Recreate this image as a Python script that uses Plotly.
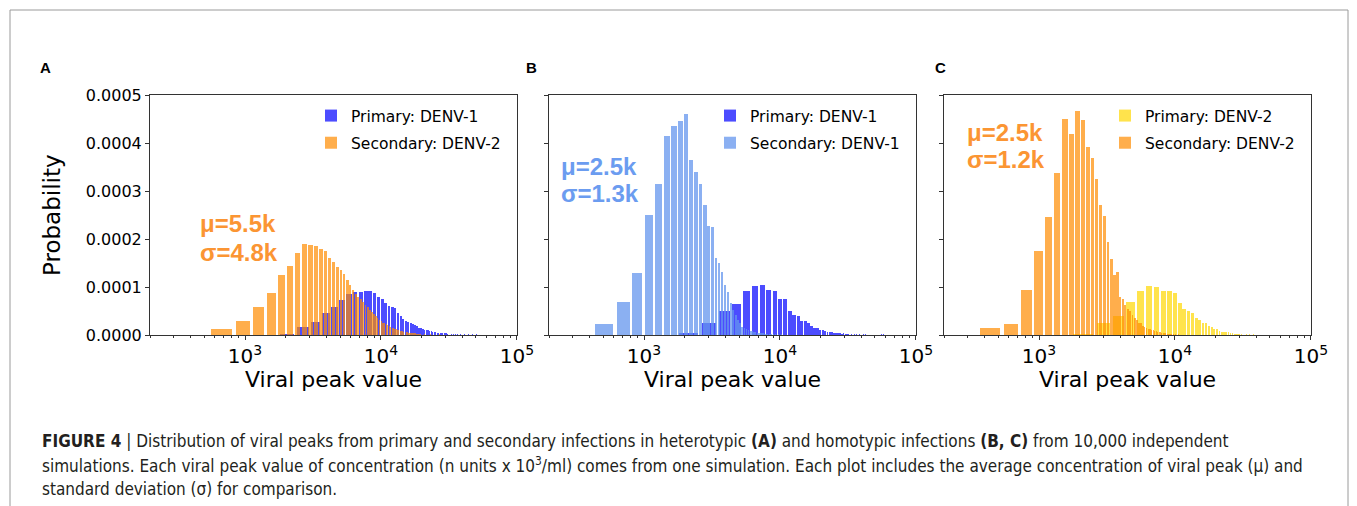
import math
import plotly.graph_objects as go

W, H = 1357, 506

# ---------------- data ----------------
# Panel A: heterotypic, primary DENV-1 / secondary DENV-2
a_pri_x = [1420, 2050, 2680, 3310, 3940, 4570, 5200, 5830, 6460, 7090, 7720, 8350, 8980, 9610,
           10240, 10870, 11500, 12130, 12760, 13390, 14020, 14650, 15280, 15910, 16540, 17170,
           17800, 18430, 19060, 19690, 20320, 20950, 21580, 22210, 22840, 23470, 24100, 24730,
           25360, 25990, 26620, 27250, 27880, 28510, 29140, 29770, 30400, 31030, 31660, 32920,
           34180, 35440, 36700, 38590, 41110, 44260, 47410, 50560, 54340, 58750, 65050, 87100]
a_pri_p = [1e-6, 2e-6, 1.6e-5, 2.8e-5, 4.6e-5, 5.8e-5, 7.2e-5, 8.5e-5, 9.0e-5, 9.0e-5, 9.1e-5,
           9.1e-5, 8.7e-5, 8.0e-5, 7.5e-5, 6.7e-5, 6.0e-5, 5.8e-5, 5.7e-5, 4.6e-5, 4.0e-5, 3.3e-5,
           3.0e-5, 2.8e-5, 2.6e-5, 2.3e-5, 2.0e-5, 1.8e-5, 1.5e-5, 1.5e-5, 1.2e-5, 1.1e-5, 1.0e-5,
           1.0e-5, 9e-6, 8e-6, 7e-6, 7e-6, 6e-6, 5e-6, 5e-6, 5e-6, 4e-6, 4e-6, 3.5e-6, 3.5e-6,
           3.5e-6, 3e-6, 3e-6, 2.5e-6, 2e-6, 2e-6, 2e-6, 2e-6, 1.5e-6, 1.5e-6, 1.5e-6, 1.5e-6,
           1.5e-6, 1e-6, 1e-6, 1e-6]
a_sec_x = [680, 973, 1266, 1559, 1852, 2145, 2438, 2731, 3024, 3317, 3610, 3903, 4196, 4489,
           4782, 5075, 5368, 5661, 5954, 6247, 6540, 6833, 7126, 7419, 7712, 8005, 8298, 8591,
           8884, 9177, 9470, 9763, 10056, 10349, 10642, 10935, 11228, 11521, 11814, 12107, 12400,
           12693, 12986, 13279, 13572, 13865, 14158, 14451, 14744, 15037, 15330, 15623, 15916,
           16209, 16502, 16795, 17088, 17381, 17674, 17967, 18260, 18553, 18846, 19139, 19432,
           20018, 20897, 21776, 23241, 24999, 27050, 29980, 33790, 38186]
a_sec_p = [1.2e-5, 3.0e-5, 5.8e-5, 8.7e-5, 1.24e-4, 1.44e-4, 1.70e-4, 1.90e-4, 1.88e-4, 1.86e-4,
           1.79e-4, 1.75e-4, 1.60e-4, 1.53e-4, 1.42e-4, 1.35e-4, 1.27e-4, 1.15e-4, 1.04e-4, 9.4e-5,
           8.6e-5, 8.0e-5, 7.4e-5, 6.8e-5, 6.3e-5, 5.8e-5, 5.3e-5, 4.8e-5, 4.4e-5, 4.0e-5, 3.6e-5,
           3.2e-5, 2.9e-5, 2.6e-5, 2.4e-5, 2.2e-5, 2.0e-5, 1.8e-5, 1.7e-5, 1.5e-5, 1.4e-5, 1.3e-5,
           1.2e-5, 1.1e-5, 1.0e-5, 9e-6, 8e-6, 8e-6, 7e-6, 7e-6, 6e-6, 6e-6, 5e-6, 5e-6, 5e-6,
           4e-6, 4e-6, 4e-6, 3.5e-6, 3.5e-6, 3e-6, 3e-6, 3e-6, 2.5e-6, 2.5e-6, 2e-6, 2e-6, 2e-6,
           1.5e-6, 1.5e-6, 1.5e-6, 1e-6, 1e-6, 1e-6]

# Panel B: homotypic, primary DENV-1 / secondary DENV-1
b_pri_x = [2150, 3030, 3910, 4790, 5670, 6550, 7430, 8310, 9190, 10070, 10950, 11830, 12710,
           13590, 14470, 15350, 16230, 17110, 17990, 18870, 19750, 20630, 21510, 22390, 23270,
           24150, 25030, 25910, 26790, 27670, 28550, 29430, 30310, 31190, 32070, 33830, 35590,
           36470, 38230, 40870, 42630, 55830, 57590]
b_pri_p = [5e-6, 2.5e-5, 4.9e-5, 6.4e-5, 9.2e-5, 1.03e-4, 1.05e-4, 9.4e-5, 9.2e-5, 7.5e-5,
           7.4e-5, 4.9e-5, 4.1e-5, 3.9e-5, 3.0e-5, 2.9e-5, 2.4e-5, 1.9e-5, 1.4e-5, 1.4e-5, 1.0e-5,
           1.0e-5, 8e-6, 7e-6, 7e-6, 6e-6, 5e-6, 5e-6, 4e-6, 3.5e-6, 3e-6, 3.5e-6, 3e-6, 2e-6,
           2e-6, 2e-6, 1.5e-6, 2e-6, 1.5e-6, 1.5e-6, 1.5e-6, 1.5e-6, 1.5e-6]
b_sec_x = [515, 706, 897, 1088, 1279, 1470, 1661, 1852, 2043, 2234, 2425, 2616, 2807, 2998,
           3189, 3380, 3571, 3762, 3953, 4144, 4335, 4526, 4717, 4908, 5099, 5290, 5481, 5672,
           5863, 6054, 6245, 6436, 6627, 6818, 7009, 7200, 7391, 7582, 7773, 7964, 8155, 8346,
           8537, 8728, 8919, 9301, 9683, 10256, 11020, 12166, 13694]
b_sec_p = [2.2e-5, 6.8e-5, 1.29e-4, 2.50e-4, 3.14e-4, 4.15e-4, 4.35e-4, 4.46e-4, 4.60e-4, 3.65e-4,
           3.40e-4, 3.14e-4, 2.71e-4, 2.27e-4, 2.26e-4, 1.60e-4, 1.49e-4, 1.32e-4, 1.04e-4, 9.0e-5,
           6.6e-5, 5.2e-5, 4.2e-5, 3.1e-5, 2.4e-5, 1.7e-5, 1.5e-5, 1.2e-5, 1.0e-5, 9e-6, 8e-6,
           7e-6, 6e-6, 5e-6, 5e-6, 4e-6, 4e-6, 3.5e-6, 3e-6, 3e-6, 2.5e-6, 2.5e-6, 2e-6, 2e-6,
           2e-6, 1.5e-6, 1.5e-6, 1.5e-6, 1e-6, 1e-6, 1e-6]

# Panel C: homotypic, primary DENV-2 / secondary DENV-2
c_pri_x = [2130, 3000, 3870, 4740, 5610, 6480, 7350, 8220, 9090, 9960, 10830, 11700, 12570,
           13440, 14310, 15180, 16050, 16920, 17790, 18660, 19530, 20400, 21270, 22140, 23010,
           23880, 24750, 25620, 26490, 27360, 28230, 29100, 29970, 30840, 33450, 35190, 37800,
           42150, 47370, 56940, 66510, 86520]
c_pri_p = [2e-6, 2.4e-5, 4.0e-5, 6.8e-5, 9.2e-5, 1.03e-4, 9.9e-5, 9.2e-5, 9.2e-5, 8.8e-5, 6.6e-5,
           5.5e-5, 4.9e-5, 4.5e-5, 3.5e-5, 3.1e-5, 2.6e-5, 2.5e-5, 1.9e-5, 1.6e-5, 1.3e-5, 1.2e-5,
           9e-6, 7e-6, 7e-6, 6e-6, 6e-6, 4e-6, 3.5e-6, 3e-6, 2.5e-6, 2e-6, 2e-6, 1.5e-6, 1.5e-6,
           1.5e-6, 1.5e-6, 1e-6, 1e-6, 1e-6, 1e-6, 1e-6]
c_sec_x = [440, 625, 810, 995, 1180, 1365, 1550, 1735, 1920, 2105, 2290, 2475, 2660, 2845, 3030,
           3215, 3400, 3585, 3770, 3955, 4140, 4325, 4510, 4695, 4880, 5065, 5250, 5435, 5620,
           5805, 5990, 6175, 6360, 6545, 6730, 6915, 7100, 7285, 7470, 7655, 7840, 8025, 8210,
           8395, 8580, 8765, 8950, 9135, 9320, 9505, 9690, 10060, 10615, 11170, 12095, 13390]
c_sec_p = [1.4e-5, 2.2e-5, 9.4e-5, 1.76e-4, 2.46e-4, 3.38e-4, 4.49e-4, 4.19e-4, 4.67e-4, 4.48e-4,
           3.91e-4, 3.68e-4, 3.26e-4, 2.71e-4, 2.48e-4, 1.94e-4, 1.58e-4, 1.25e-4, 1.32e-4, 8.0e-5,
           7.6e-5, 6.2e-5, 5.5e-5, 4.9e-5, 4.2e-5, 3.5e-5, 3.1e-5, 2.6e-5, 2.4e-5, 1.8e-5, 1.7e-5,
           1.4e-5, 1.3e-5, 1.2e-5, 1.1e-5, 1.0e-5, 9e-6, 8e-6, 7e-6, 6e-6, 6e-6, 5e-6, 4e-6, 4e-6,
           3.5e-6, 3e-6, 3e-6, 2.5e-6, 2.5e-6, 2e-6, 2e-6, 1.5e-6, 1.5e-6, 1e-6, 1e-6, 1e-6]

legend_names = [["Primary: DENV-1", "Secondary: DENV-2"],
                ["Primary: DENV-1", "Secondary: DENV-1"],
                ["Primary: DENV-2", "Secondary: DENV-2"]]
stats_text = [["μ=5.5k", "σ=4.8k"], ["μ=2.5k", "σ=1.3k"], ["μ=2.5k", "σ=1.2k"]]
panel_letters = ["A", "B", "C"]
y_ticks = [0.0, 0.0001, 0.0002, 0.0003, 0.0004, 0.0005]

# ---------------- styles / layout ----------------
bin_widths = {"a_pri": 630, "a_sec": 293, "b_pri": 880, "b_sec": 191, "c_pri": 870, "c_sec": 185}
BAR_FRAC = 0.8
BLUE = "rgba(0,0,255,0.70)"
ORANGE = "rgba(255,140,0,0.70)"
LBLUE = "rgba(100,149,237,0.75)"
GOLD = "rgba(255,215,0,0.70)"
TXT_OR = "#fb9533"
TXT_BL = "#6b9cf0"

def pxx(x):
    return x / W

def pyy(y):
    return 1 - y / H

panel_x = [(150, 517), (549, 916), (944, 1311)]
plot_top, plot_bot = 95, 335

series = [
    [(a_pri_x, a_pri_p, "a_pri", BLUE), (a_sec_x, a_sec_p, "a_sec", ORANGE)],
    [(b_pri_x, b_pri_p, "b_pri", BLUE), (b_sec_x, b_sec_p, "b_sec", LBLUE)],
    [(c_pri_x, c_pri_p, "c_pri", GOLD), (c_sec_x, c_sec_p, "c_sec", ORANGE)],
]
stat_colors = [TXT_OR, TXT_BL, TXT_OR]

fig = go.Figure()
legend_ids = ["legend", "legend2", "legend3"]

for i, pair in enumerate(series):
    sfx = "" if i == 0 else str(i + 1)
    for j, (xs, ps, key, col) in enumerate(pair):
        fig.add_trace(go.Bar(
            x=xs, y=ps, width=BAR_FRAC * bin_widths[key],
            marker=dict(color=col, line=dict(width=0)),
            name=legend_names[i][j], legend=legend_ids[i],
            legendgroup=f"g{i}{j}",
            xaxis="x" + sfx, yaxis="y" + sfx, showlegend=True,
        ))

layout = dict(
    width=W, height=H, margin=dict(l=0, r=0, t=0, b=0),
    paper_bgcolor="white", plot_bgcolor="white",
    barmode="overlay", bargap=0, showlegend=True,
    font=dict(family="DejaVu Sans", color="black"),
)

legend_left = [311, 710, 1105]
for i in range(3):
    sfx = "" if i == 0 else str(i + 1)
    x0, x1 = panel_x[i]
    layout["xaxis" + sfx] = dict(
        domain=[pxx(x0), pxx(x1)], anchor="y" + sfx, type="log",
        range=[math.log10(200), 5.001], dtick=1, exponentformat="power",
        showline=True, mirror=True, linecolor="#333", linewidth=1,
        ticks="outside", ticklen=4, tickcolor="#333", tickwidth=1,
        tickfont=dict(family="DejaVu Sans", size=16, color="black"),
        minor=dict(ticks="outside", ticklen=2, tickcolor="#333", dtick="D1", showgrid=False),
        showgrid=False, zeroline=False, automargin=False,
    )
    layout["yaxis" + sfx] = dict(
        domain=[pyy(plot_bot), pyy(plot_top)], anchor="x" + sfx,
        range=[0, 0.0005], tickvals=y_ticks, tickformat=".4f",
        showticklabels=(i == 0),
        showline=True, mirror=True, linecolor="#333", linewidth=1,
        ticks="outside", ticklen=4, tickcolor="#333",
        tickfont=dict(family="DejaVu Sans", size=16, color="black"),
        showgrid=False, zeroline=False, automargin=False,
    )
    layout[legend_ids[i]] = dict(
        x=pxx(legend_left[i]), y=pyy(99), xanchor="left", yanchor="top",
        bgcolor="rgba(0,0,0,0)", borderwidth=0, itemwidth=30,
        traceorder="grouped", tracegroupgap=4,
        font=dict(family="DejaVu Sans", size=15.5, color="black"),
    )

fig.update_layout(**layout)

ann = []
stat_pos = [(198, 223, 252), (559, 166, 193), (965, 132, 160)]
for i in range(3):
    x0, x1 = panel_x[i]
    ann.append(dict(text="Viral peak value", x=pxx((x0 + x1) / 2), y=pyy(379),
                    xref="paper", yref="paper", showarrow=False, xanchor="center", yanchor="middle",
                    font=dict(family="DejaVu Sans", size=22, color="black")))
    lx = [45, 531, 940][i]
    ann.append(dict(text=f"<b>{panel_letters[i]}</b>", x=pxx(lx), y=pyy(67), xref="paper", yref="paper",
                    showarrow=False, xanchor="center", yanchor="middle",
                    font=dict(family="Liberation Sans", size=15, color="black")))
    sx, sy1, sy2 = stat_pos[i]
    for t, yy in zip(stats_text[i], (sy1, sy2)):
        ann.append(dict(text=f"<b>{t}</b>", x=pxx(sx), y=pyy(yy), xref="paper", yref="paper",
                        showarrow=False, xanchor="left", yanchor="middle",
                        font=dict(family="Liberation Sans", size=24, color=stat_colors[i])))

ann.append(dict(text="Probability", x=pxx(52), y=pyy(215), xref="paper", yref="paper",
                showarrow=False, textangle=-90, xanchor="center", yanchor="middle",
                font=dict(family="DejaVu Sans", size=23, color="black")))

caption = [
    "<b>FIGURE 4</b> | Distribution of viral peaks from primary and secondary infections in heterotypic "
    "<b>(A)</b> and homotypic infections <b>(B, C)</b> from 10,000 independent",
    "simulations. Each viral peak value of concentration (n units x 10<sup>3</sup>/ml) comes from one "
    "simulation. Each plot includes the average concentration of viral peak (μ) and",
    "standard deviation (σ) for comparison.",
]
for k, line in enumerate(caption):
    ann.append(dict(text=line, x=pxx(40), y=pyy(441 + 24 * k), xref="paper", yref="paper",
                    showarrow=False, xanchor="left", yanchor="middle",
                    font=dict(family="Liberation Sans Narrow, DejaVu Sans Condensed, Liberation Sans",
                              size=17, color="#231f20")))

fig.update_layout(annotations=ann)
fig.add_shape(type="rect", xref="paper", yref="paper", x0=pxx(10), x1=pxx(1348),
              y0=-0.2, y1=pyy(10), line=dict(color="#9a9a9a", width=1), fillcolor="rgba(0,0,0,0)",
              layer="below")

fig.write_html("out.html")
